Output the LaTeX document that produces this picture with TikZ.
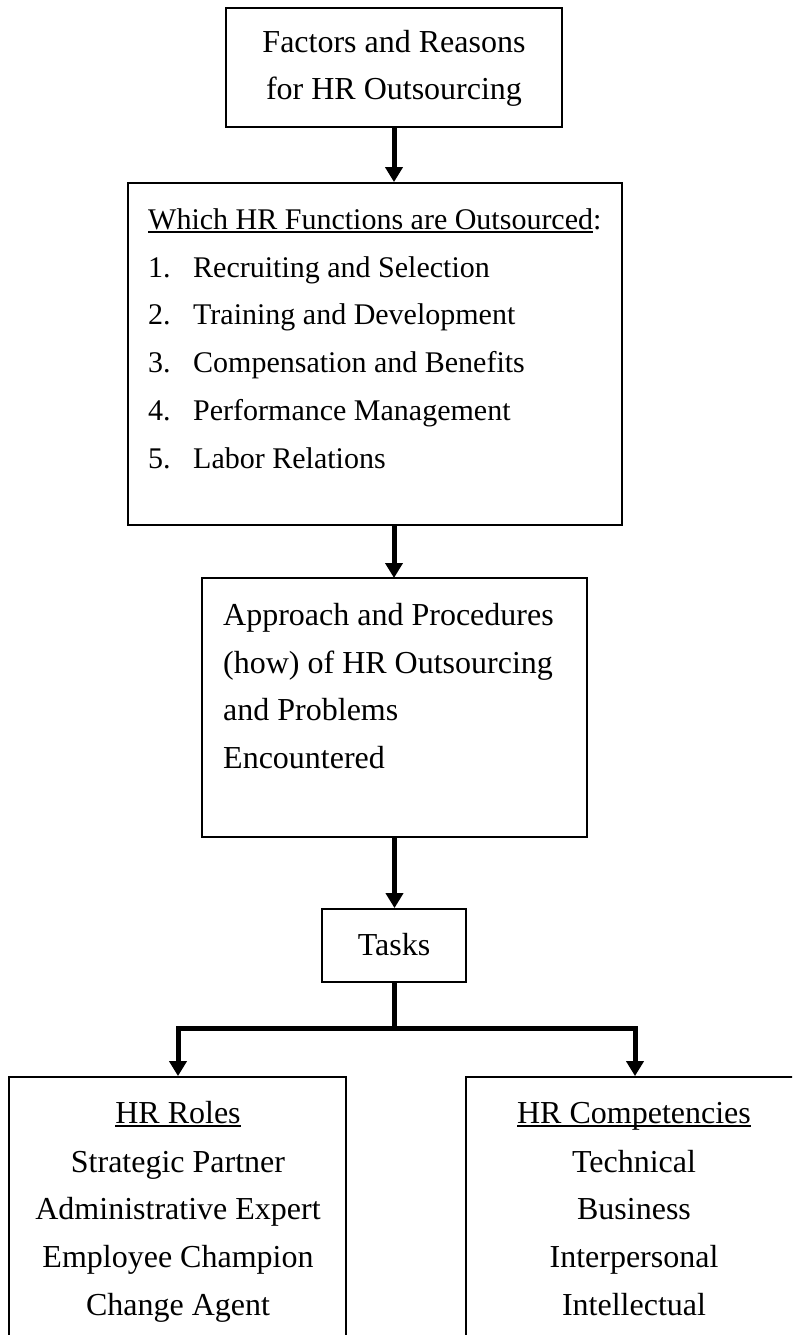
\documentclass[tikz,border=0pt]{standalone}
\usepackage{fontspec}
\setmainfont{Liberation Serif}
\usetikzlibrary{arrows.meta}
\newcommand\myul[1]{\setbox0=\hbox{#1}\rlap{\rule[-3.5pt]{\wd0}{1.4pt}}\box0}
\tikzset{
  box/.style={draw, line width=1.8pt, rectangle, inner sep=0pt},
  txt/.style={inner sep=0pt, font=\fontsize{32}{40}\selectfont},
  txtb/.style={inner sep=0pt, font=\fontsize{30}{38}\selectfont},
  shaft/.style={line width=5pt},
  arr/.style={line width=5pt, line join=miter, -{Triangle[width=17pt,length=15pt]}}
}
\begin{document}
\begin{tikzpicture}[x=1pt,y=-1pt]
\useasboundingbox (0,0) rectangle (792,1335);
\clip (0,0) rectangle (792,1335);
% boxes
\node[box, minimum width=336pt, minimum height=119pt] (b1) at (394,67.5) {};
\node[box, minimum width=494pt, minimum height=342pt] (b2) at (375,354) {};
\node[box, minimum width=385pt, minimum height=259pt] (b3) at (394.5,707.5) {};
\node[box, minimum width=144pt, minimum height=73pt] (tk) at (394,945.5) {};
\node[box, minimum width=337pt, minimum height=290pt] (roles) at (177.5,1222) {};
\node[box, minimum width=337pt, minimum height=290pt] (comp) at (634.5,1222) {};
% box 1 text
\node[txt, anchor=base] (t1a) at (394,53) {Factors and Reasons};
\node[txt, anchor=base] (t1b) at (394,100) {for HR Outsourcing};
% box 2 text
\node[txtb, anchor=base west] (t2h) at (148,229) {\myul{Which HR Functions are Outsourced}:};
\node[txtb, anchor=base west] (n1) at (148,277) {1.};
\node[txtb, anchor=base west] (i1) at (193,277) {Recruiting and Selection};
\node[txtb, anchor=base west] (n2) at (148,324) {2.};
\node[txtb, anchor=base west] (i2) at (193,324) {Training and Development};
\node[txtb, anchor=base west] (n3) at (148,372) {3.};
\node[txtb, anchor=base west] (i3) at (193,372) {Compensation and Benefits};
\node[txtb, anchor=base west] (n4) at (148,420) {4.};
\node[txtb, anchor=base west] (i4) at (193,420) {Performance Management};
\node[txtb, anchor=base west] (n5) at (148,468) {5.};
\node[txtb, anchor=base west] (i5) at (193,468) {Labor Relations};
% box 3 text
\node[txt, anchor=base west] (t3a) at (223,625) {Approach and Procedures};
\node[txt, anchor=base west] (t3b) at (223,673) {(how) of HR Outsourcing};
\node[txt, anchor=base west] (t3c) at (223,720) {and Problems};
\node[txt, anchor=base west] (t3d) at (223,768) {Encountered};
% tasks
\node[txt, anchor=base] (t4) at (394,955) {Tasks};
% roles
\node[txt, anchor=base] (r0) at (178,1123) {\myul{HR Roles}};
\node[txt, anchor=base] (r1) at (178,1172) {Strategic Partner};
\node[txt, anchor=base] (r2) at (178,1219) {Administrative Expert};
\node[txt, anchor=base] (r3) at (178,1267) {Employee Champion};
\node[txt, anchor=base] (r4) at (178,1315) {Change Agent};
% competencies
\node[txt, anchor=base] (c0) at (634,1123) {\myul{HR Competencies}};
\node[txt, anchor=base] (c1) at (634,1172) {Technical};
\node[txt, anchor=base] (c2) at (634,1219) {Business};
\node[txt, anchor=base] (c3) at (634,1267) {Interpersonal};
\node[txt, anchor=base] (c4) at (634,1315) {Intellectual};
% connectors
\coordinate (jc) at (394,1028);
\coordinate (jl) at (178,1028);
\coordinate (jr) at (635,1028);
\draw[arr] (b1.south) -- (b1.south |- b2.north);
\draw[arr] (394,525) -- (394,578);
\draw[arr] (b3.south) -- (b3.south |- tk.north);
\draw[shaft] (tk.south) -- (jc);
\draw[arr] (jc) -- (jl) -- (jl |- roles.north);
\draw[arr] (jc) -- (jr) -- (jr |- comp.north);
\end{tikzpicture}
\end{document}
